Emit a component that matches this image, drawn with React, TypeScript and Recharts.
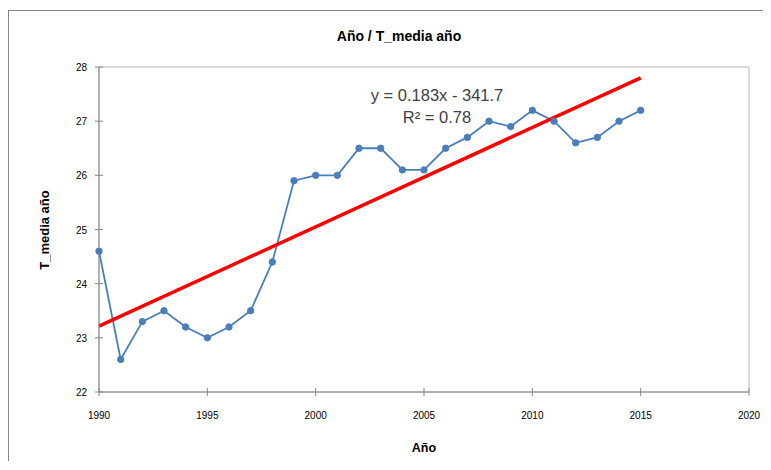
import React from 'react';
import { LineChart, Line, XAxis, YAxis, ReferenceArea } from 'recharts';

const years = [1990, 1991, 1992, 1993, 1994, 1995, 1996, 1997, 1998, 1999, 2000, 2001, 2002,
  2003, 2004, 2005, 2006, 2007, 2008, 2009, 2010, 2011, 2012, 2013, 2014, 2015];
const tMedia = [24.6, 22.6, 23.3, 23.5, 23.2, 23.0, 23.2, 23.5, 24.4, 25.9, 26.0, 26.0, 26.5,
  26.5, 26.1, 26.1, 26.5, 26.7, 27.0, 26.9, 27.2, 27.0, 26.6, 26.7, 27.0, 27.2];
const xTicks = [1990, 1995, 2000, 2005, 2010, 2015, 2020];
const yTicks = [22, 23, 24, 25, 26, 27, 28];
const equationText = 'y = 0.183x - 341.7';
const r2Text = 'R² = 0.78';

const data = years.map((year, i) => ({ year, t: tMedia[i] }));

// least squares trend line, like Excel's linear trendline
const n = years.length;
const mx = years.reduce((a, b) => a + b, 0) / n;
const my = tMedia.reduce((a, b) => a + b, 0) / n;
let sxy = 0;
let sxx = 0;
years.forEach((x, i) => {
  sxy += (x - mx) * (tMedia[i] - my);
  sxx += (x - mx) * (x - mx);
});
const slope = sxy / sxx;
const trendData = [years[0], years[n - 1]].map((x) => ({ year: x, trend: my + slope * (x - mx) }));

const axisColor = '#868686';
const font = '"Liberation Sans", Arial, sans-serif';

const XTick = (props: any) => {
  const { x, y, payload } = props;
  return (
    <g>
      <line x1={x} x2={x} y1={y - 4} y2={y + 4} stroke={axisColor} />
      <text x={x} y={y + 27} textAnchor="middle" fontSize={10} fontFamily={font} fill="#000">
        {payload.value}
      </text>
    </g>
  );
};

const YTick = (props: any) => {
  const { x, y, payload } = props;
  return (
    <g>
      <line x1={x - 4} x2={x + 4} y1={y} y2={y} stroke={axisColor} />
      <text x={x - 12} y={y + 4} textAnchor="end" fontSize={10} fontFamily={font} fill="#000">
        {payload.value}
      </text>
    </g>
  );
};

export default function App() {
  return (
    <div
      style={{
        position: 'relative',
        width: 763,
        height: 450,
        marginTop: 2,
        borderTop: `1px solid ${axisColor}`,
        borderLeft: `1px solid ${axisColor}`,
        background: '#fff',
      }}
    >
      <LineChart width={762} height={449} margin={{ top: 56, right: 22, bottom: 38, left: 40 }}>
        <XAxis
          dataKey="year"
          type="number"
          domain={[1990, 2020]}
          ticks={xTicks}
          allowDuplicatedCategory={false}
          stroke={axisColor}
          tickLine={false}
          tickSize={0}
          tickMargin={0}
          height={30}
          tick={<XTick />}
        />
        <YAxis
          type="number"
          domain={[22, 28]}
          ticks={yTicks}
          stroke={axisColor}
          tickLine={false}
          tickSize={0}
          tickMargin={0}
          width={50}
          tick={<YTick />}
        />
        <ReferenceArea x1={1990} x2={2020} y1={22} y2={28} fill="none" stroke="#b8b8b8" />
        <Line
          data={data}
          dataKey="t"
          stroke="#4a7ebb"
          strokeWidth={1.8}
          dot={{ r: 3.2, fill: '#4a7ebb', stroke: '#4a7ebb', strokeWidth: 1 }}
          isAnimationActive={false}
        />
        <Line
          data={trendData}
          dataKey="trend"
          stroke="#ff0000"
          strokeWidth={3.5}
          dot={false}
          isAnimationActive={false}
        />
      </LineChart>
      <svg
        width={762}
        height={449}
        style={{ position: 'absolute', left: 0, top: 0, pointerEvents: 'none' }}
      >
        <text x={390} y={30} textAnchor="middle" fontSize={14} fontWeight="bold" fontFamily={font} fill="#000">
          Año / T_media año
        </text>
        <text x={428} y={90} textAnchor="middle" fontSize={16.5} fontFamily={font} fill="#404040">
          {equationText}
        </text>
        <text x={428} y={112} textAnchor="middle" fontSize={16.5} fontFamily={font} fill="#404040">
          {r2Text}
        </text>
        <text x={415} y={441} textAnchor="middle" fontSize={12.5} fontWeight="bold" fontFamily={font} fill="#000">
          Año
        </text>
        <text
          x={36}
          y={219}
          textAnchor="middle"
          fontSize={13}
          fontWeight="bold"
          fontFamily={font}
          fill="#000"
          transform="rotate(-90 36 219)"
          dy={4}
        >
          T_media año
        </text>
      </svg>
    </div>
  );
}
